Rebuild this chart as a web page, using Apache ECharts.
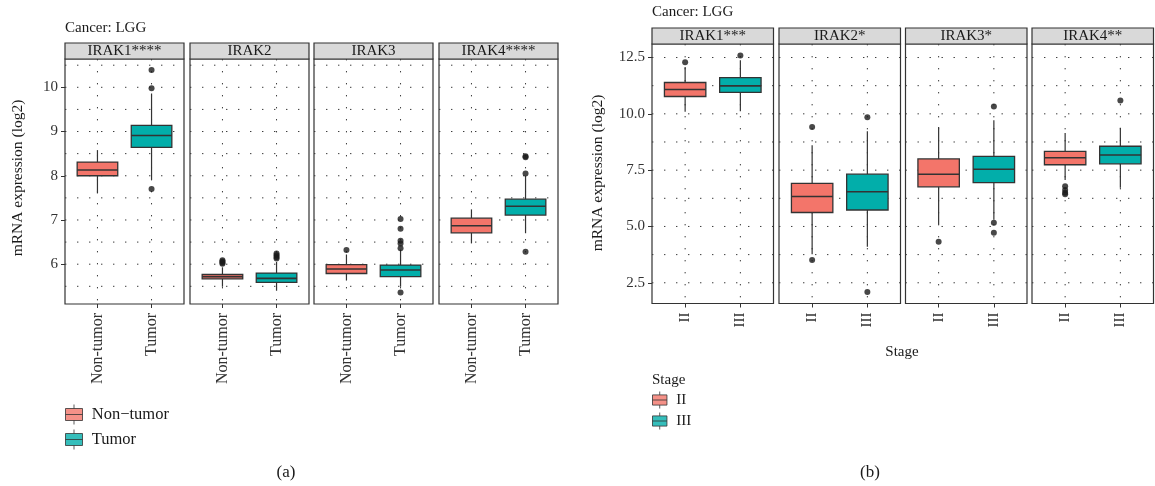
<!DOCTYPE html>
<html><head><meta charset="utf-8">
<script src="https://cdn.jsdelivr.net/npm/echarts@6/dist/echarts.min.js"></script>
<style>html,body{margin:0;padding:0;background:#fff}#chart{width:1155px;height:486px}</style>
</head><body><div id="chart"></div>
<script>
// ---------- Figure (a): tumor vs non-tumor ----------
const genesA = ['IRAK1****', 'IRAK2', 'IRAK3', 'IRAK4****'];
const groupsA = ['Non-tumor', 'Tumor'];
// each box: [lower whisker, Q1, median, Q3, upper whisker]
const nonTumorBoxA = [[7.60, 8.00, 8.13, 8.31, 8.58], [5.49, 5.67, 5.72, 5.77, 5.93], [5.63, 5.79, 5.89, 5.99, 6.22], [6.47, 6.71, 6.87, 7.04, 7.24]];
const tumorBoxA = [[7.91, 8.64, 8.91, 9.14, 9.86], [5.40, 5.59, 5.68, 5.80, 6.05], [5.49, 5.72, 5.87, 5.98, 6.33], [6.70, 7.11, 7.31, 7.47, 8.00]];
const nonTumorOutA = [[], [6.09, 6.06, 6.03, 6.01], [6.32], []];
const tumorOutA = [[10.39, 9.98, 7.70], [6.24, 6.20, 6.16, 6.13], [7.02, 6.80, 6.53, 6.47, 6.36, 5.36], [8.44, 8.42, 8.05, 6.28]];
const yTicksA = [6, 7, 8, 9, 10];
const yMinorA = [5.5, 6.5, 7.5, 8.5, 9.5, 10.5];
const yRangeA = [5.10, 10.64];

// ---------- Figure (b): stage II vs III ----------
const genesB = ['IRAK1***', 'IRAK2*', 'IRAK3*', 'IRAK4**'];
const stagesB = ['II', 'III'];
const stageIIBoxB = [[10.09, 10.77, 11.08, 11.39, 12.08], [3.77, 5.62, 6.33, 6.91, 8.61], [5.09, 6.76, 7.32, 8.00, 9.42], [7.06, 7.74, 8.05, 8.33, 9.15]];
const stageIIIBoxB = [[10.12, 10.95, 11.24, 11.61, 12.38], [4.10, 5.73, 6.54, 7.32, 9.23], [5.30, 6.95, 7.54, 8.11, 9.72], [6.72, 7.78, 8.17, 8.56, 9.38]];
const stageIIOutB = [[12.29], [9.41, 3.51], [4.32], [6.79, 6.62, 6.50, 6.43]];
const stageIIIOutB = [[12.59], [9.85, 2.09], [10.33, 5.16, 4.72], [10.59]];
const yTicksB = [2.5, 5, 7.5, 10, 12.5];
const yMinorB = [3.75, 6.25, 8.75, 11.25];
const yRangeB = [1.58, 13.10];

// ---------- styling / layout ----------
const FONT = 'Liberation Serif';
const COLORS = ['#F3756A', '#02AEAA'];
const EDGE = '#333333';
const BOX_W = 0.75;
const X_RANGE = [0.4, 2.6];
const X_POS = [1, 2];
const layoutA = { lefts: [65, 190, 314, 439], width: 119, top: 59, height: 245, stripH: 16, xLabelSize: 16 };
const layoutB = { lefts: [652, 779, 905.5, 1032], width: 121.5, top: 44, height: 259.5, stripH: 16, xLabelSize: 15 };
const ICON = 'path://M0,4H17V16H0Z M0,10H17 M8.5,0V4 M8.5,16V20';
const DOT = { stroke: '#3a3a3a', lineWidth: 1, lineDash: [1.4, 10.6] };

const grid = [], xAxis = [], yAxis = [], series = [], graphic = [];

function renderHLine(params, api) {
  const cs = params.coordSys;
  const y = api.coord([1, api.value(0)])[1];
  return { type: 'line', silent: true, shape: { x1: cs.x, y1: y, x2: cs.x + cs.width, y2: y }, style: DOT };
}
function renderVLine(params, api) {
  const cs = params.coordSys;
  const x = api.coord([api.value(0), 0])[0];
  return { type: 'line', silent: true, shape: { x1: x, y1: cs.y, x2: x, y2: cs.y + cs.height }, style: DOT };
}
function renderBox(params, api) {
  const x = api.value(0);
  const w = api.size([BOX_W, 0])[0];
  const lo = api.coord([x, api.value(1)]);
  const q1 = api.coord([x, api.value(2)]);
  const md = api.coord([x, api.value(3)]);
  const q3 = api.coord([x, api.value(4)]);
  const hi = api.coord([x, api.value(5)]);
  const cx = lo[0];
  const color = COLORS[Math.round(x) - 1];
  const ls = { stroke: EDGE, lineWidth: 1.2 };
  return { type: 'group', children: [
    { type: 'line', shape: { x1: cx, y1: hi[1], x2: cx, y2: q3[1] }, style: ls },
    { type: 'line', shape: { x1: cx, y1: q1[1], x2: cx, y2: lo[1] }, style: ls },
    { type: 'rect', shape: { x: cx - w / 2, y: q3[1], width: w, height: q1[1] - q3[1] }, style: { fill: color, stroke: EDGE, lineWidth: 1.3 } },
    { type: 'line', shape: { x1: cx - w / 2, y1: md[1], x2: cx + w / 2, y2: md[1] }, style: { stroke: EDGE, lineWidth: 1.6 } }
  ] };
}

function buildFigure(layout, genes, groups, boxG1, boxG2, outG1, outG2, yTicks, yMinor, yRange, fmt) {
  genes.forEach((gene, i) => {
    const gi = grid.length;
    const left = layout.lefts[i];
    grid.push({ left: left, top: layout.top, width: layout.width, height: layout.height, show: true,
      borderColor: EDGE, borderWidth: 1.2, backgroundColor: 'transparent', containLabel: false });
    xAxis.push({ gridIndex: gi, type: 'value', min: X_RANGE[0], max: X_RANGE[1],
      axisLine: { show: false }, splitLine: { show: false }, minorTick: { show: false },
      axisTick: { show: true, customValues: X_POS, length: 4, lineStyle: { color: EDGE, width: 1 } },
      axisLabel: { show: true, customValues: X_POS, rotate: 90, margin: 9, fontFamily: FONT, fontSize: layout.xLabelSize, color: '#333',
        formatter: v => groups[Math.round(v) - 1] } });
    const first = i === 0;
    yAxis.push({ gridIndex: gi, type: 'value', min: yRange[0], max: yRange[1],
      axisLine: { show: false }, splitLine: { show: false }, minorTick: { show: false },
      axisTick: { show: first, customValues: yTicks, length: 4, lineStyle: { color: EDGE, width: 1 } },
      axisLabel: { show: first, customValues: yTicks, margin: 7, fontFamily: FONT, fontSize: 15, color: '#333', formatter: fmt } });
    series.push({ type: 'custom', xAxisIndex: gi, yAxisIndex: gi, z: 1, silent: true, animation: false,
      encode: { y: 0 }, renderItem: renderHLine, data: yTicks.concat(yMinor).map(v => [v]) });
    series.push({ type: 'custom', xAxisIndex: gi, yAxisIndex: gi, z: 1, silent: true, animation: false,
      encode: { x: 0 }, renderItem: renderVLine, data: X_POS.map(v => [v]) });
    series.push({ type: 'custom', xAxisIndex: gi, yAxisIndex: gi, z: 2, animation: false,
      encode: { x: 0, y: [1, 2, 3, 4, 5] }, renderItem: renderBox,
      data: [[X_POS[0]].concat(boxG1[i]), [X_POS[1]].concat(boxG2[i])] });
    series.push({ type: 'scatter', xAxisIndex: gi, yAxisIndex: gi, z: 3, animation: false,
      symbol: 'circle', symbolSize: 6, itemStyle: { color: '#1a1a1a' },
      data: outG1[i].map(v => [X_POS[0], v]).concat(outG2[i].map(v => [X_POS[1], v])) });
    // facet strip
    graphic.push({ type: 'rect', silent: true, shape: { x: left, y: layout.top - layout.stripH, width: layout.width, height: layout.stripH },
      style: { fill: '#D9D9D9', stroke: EDGE, lineWidth: 1.2 } });
    graphic.push({ type: 'text', silent: true, x: left + layout.width / 2, y: layout.top - layout.stripH / 2 + 0.5,
      style: { text: gene, fontFamily: FONT, fontSize: 15, fill: '#1a1a1a', align: 'center', verticalAlign: 'middle' } });
  });
}

buildFigure(layoutA, genesA, groupsA, nonTumorBoxA, tumorBoxA, nonTumorOutA, tumorOutA, yTicksA, yMinorA, yRangeA, v => String(v));
buildFigure(layoutB, genesB, stagesB, stageIIBoxB, stageIIIBoxB, stageIIOutB, stageIIIOutB, yTicksB, yMinorB, yRangeB, v => v.toFixed(1));

// legend carrier series (no data)
groupsA.concat(stagesB).forEach((name, k) => {
  series.push({ type: 'scatter', name: name, xAxisIndex: 0, yAxisIndex: 0, data: [], itemStyle: { color: COLORS[k % 2] } });
});

function txt(text, x, y, size, opts) {
  return Object.assign({ type: 'text', silent: true, x: x, y: y,
    style: { text: text, fontFamily: FONT, fontSize: size, fill: '#1a1a1a', align: 'left', verticalAlign: 'middle' } }, opts || {});
}
graphic.push(txt('Cancer: LGG', 65, 28, 15));
graphic.push(txt('Cancer: LGG', 652, 12, 15));
const yTitleA = txt('mRNA expression (log2)', 18, 178, 15.5, { rotation: Math.PI / 2 });
yTitleA.style.align = 'center';
graphic.push(yTitleA);
const yTitleB = txt('mRNA expression (log2)', 598, 173, 15.5, { rotation: Math.PI / 2 });
yTitleB.style.align = 'center';
graphic.push(yTitleB);
const xTitleB = txt('Stage', 902, 352, 15); xTitleB.style.align = 'center'; graphic.push(xTitleB);
graphic.push(txt('Stage', 652, 380, 15));
const capA = txt('(a)', 286, 473, 17); capA.style.align = 'center'; graphic.push(capA);
const capB = txt('(b)', 870, 473, 17); capB.style.align = 'center'; graphic.push(capB);

const option = {
  animation: false,
  backgroundColor: '#ffffff',
  grid: grid, xAxis: xAxis, yAxis: yAxis, series: series, graphic: graphic,
  legend: [
    { left: 65, top: 404, orient: 'vertical', padding: 0, itemWidth: 17.5, itemHeight: 20, itemGap: 4, selectedMode: false,
      data: groupsA.map(n => ({ name: n, icon: ICON })), itemStyle: { borderColor: EDGE, borderWidth: 1 },
      formatter: n => n.replace('-', '\u2212'),
      textStyle: { fontFamily: FONT, fontSize: 16.5, color: '#1a1a1a', padding: [0, 0, 0, 4] } },
    { left: 652, top: 391, orient: 'vertical', padding: 0, itemWidth: 15, itemHeight: 17, itemGap: 3, selectedMode: false,
      data: stagesB.map(n => ({ name: n, icon: ICON })), itemStyle: { borderColor: EDGE, borderWidth: 1 },
      textStyle: { fontFamily: FONT, fontSize: 15, color: '#1a1a1a', padding: [0, 0, 0, 4] } }
  ]
};
const chart = echarts.init(document.getElementById('chart'), null, { renderer: 'canvas' });
chart.setOption(option);
</script></body></html>
